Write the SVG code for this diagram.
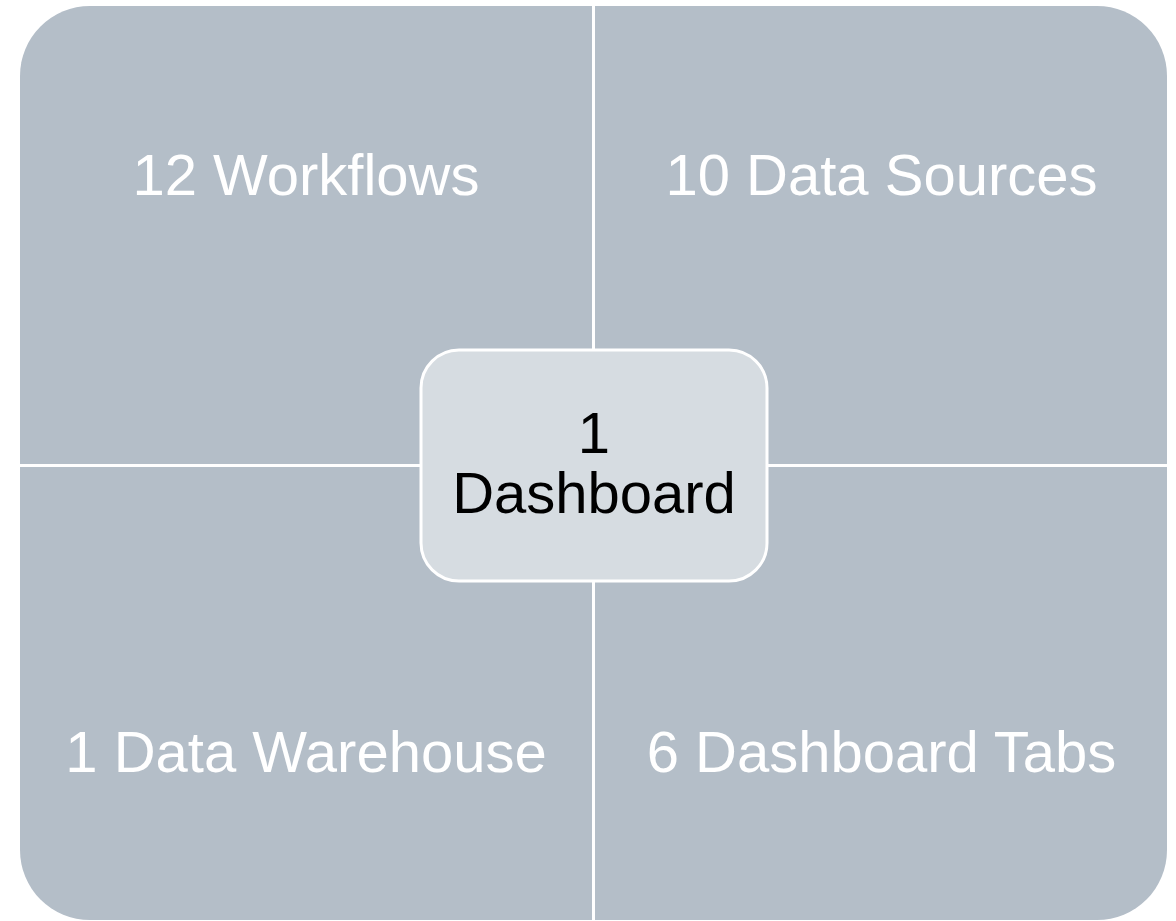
<svg xmlns="http://www.w3.org/2000/svg" width="1176" height="921" viewBox="0 0 1176 921">
  <style>
    .quad { fill: #b4bec8; }
    .qlabel { font-family: "Liberation Sans", Arial, sans-serif; font-size: 58px; fill: #ffffff; text-anchor: middle; }
    .core { fill: #d6dce1; stroke: #ffffff; stroke-width: 3; }
    .clabel { font-family: "Liberation Sans", Arial, sans-serif; font-size: 58px; fill: #000000; text-anchor: middle; }
  </style>
  <rect width="1176" height="921" fill="#ffffff"/>

  <g id="workflows">
    <path class="quad" d="M20,464 V76 A70,70 0 0 1 90,6 H592 V464 Z"/>
    <text class="qlabel" x="306" y="195">12 Workflows</text>
  </g>

  <g id="data-sources">
    <path class="quad" d="M595,6 H1097 A70,70 0 0 1 1167,76 V464 H595 Z"/>
    <text class="qlabel" x="881.5" y="195">10 Data Sources</text>
  </g>

  <g id="data-warehouse">
    <path class="quad" d="M20,467 H592 V920 H90 A70,70 0 0 1 20,850 Z"/>
    <text class="qlabel" x="306" y="771.5">1 Data Warehouse</text>
  </g>

  <g id="dashboard-tabs">
    <path class="quad" d="M595,467 H1167 V850 A70,70 0 0 1 1097,920 H595 Z"/>
    <text class="qlabel" x="881.5" y="771.5">6 Dashboard Tabs</text>
  </g>

  <g id="connectors"></g>

  <g id="dashboard">
    <rect class="core" x="421" y="350" width="346" height="231" rx="38" ry="38"/>
    <text class="clabel" x="594" y="453">1</text>
    <text class="clabel" x="594" y="513">Dashboard</text>
  </g>
</svg>
